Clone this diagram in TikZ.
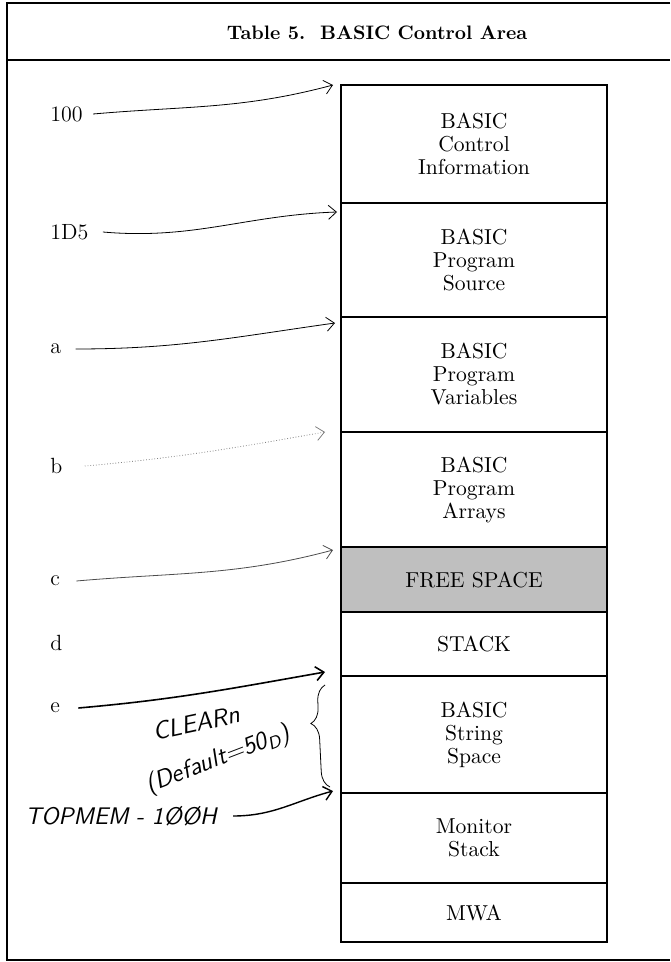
\documentclass[tikz,border=0pt]{standalone}
\usetikzlibrary{positioning,arrows.meta,decorations.pathreplacing}
\begin{document}
\begin{tikzpicture}[x=0.5pt, y=-0.5pt, node distance=0pt,
    row/.style={draw=black, semithick, outer sep=0pt, minimum width=133pt, align=center,
        font=\fontsize{10.8}{11.5}\selectfont},
    addr/.style={anchor=west, inner sep=1pt, font=\fontsize{11}{12}\selectfont},
    hand/.style={inner sep=0pt, font=\sffamily\itshape\fontsize{12.5}{12.5}\selectfont},
    ptr/.style={-{Straight Barb[length=4pt,width=7pt]}, thin}]
    \useasboundingbox (0,0) rectangle (670,962);
    \draw[line width=1.3pt] (670,3) -- (7,3) -- (7,960) -- (670,960);
    \draw[line width=1.1pt] (7,60) -- (670,60);
    \node (title) at (377,33) {\fontsize{9.75}{11}\selectfont\bfseries Table 5.\ \ BASIC Control Area};

    \node[row, anchor=north, minimum height=59pt] (ctrl) at (474,85) {BASIC\\Control\\Information};
    \node[row, below=of ctrl, minimum height=57pt] (src) {BASIC\\Program\\Source};
    \node[row, below=of src, minimum height=57.5pt] (vars) {BASIC\\Program\\Variables};
    \node[row, below=of vars, minimum height=57.5pt] (arrs) {BASIC\\Program\\Arrays};
    \node[row, below=of arrs, minimum height=32.5pt, fill=black!25] (free) {FREE SPACE};
    \node[row, below=of free, minimum height=32pt] (stk) {STACK};
    \node[row, below=of stk, minimum height=58.5pt] (str) {BASIC\\String\\Space};
    \node[row, below=of str, minimum height=45pt] (mon) {Monitor\\Stack};
    \node[row, below=of mon, minimum height=29.5pt] (mwa) {MWA};

    \node[addr] (l100) at (48,114) {100};
    \node[addr] (l1d5) at (48,232) {1D5};
    \node[addr] (la) at (48,349) {a};
    \node[addr] (lb) at (48,466) {b};
    \node[addr] (lc) at (48,581) {c};
    \node[addr] (ld) at (48,643) {d};
    \node[addr] (le) at (48,708) {e};
    \node[hand, font=\sffamily\itshape\fontsize{12}{12}\selectfont] (top) at (121,816) {TOPMEM - 1\O\O H};
    \node[hand, rotate=12] (clr) at (196,723) {CLEARn};
    \node[hand, rotate=21] (dflt) at (218,760) {(Default=50\textsubscript{D})};

    \draw[ptr] ([xshift=4pt]l100.east) to[out=5,in=195] ([xshift=-4pt]ctrl.north west);
    \draw[ptr] ([xshift=6pt]l1d5.east) to[out=-5,in=182] ([xshift=-2pt,yshift=-4.5pt]src.north west);
    \draw[ptr] ([xshift=6pt]la.east) to[out=0,in=188] ([xshift=-3pt,yshift=-3pt]vars.north west);
    \draw[ptr, gray, densely dotted] ([xshift=10pt]lb.east) to[out=5,in=190] ([xshift=-8pt]arrs.north west);
    \draw[ptr, black!70] ([xshift=7pt]lc.east) to[out=5,in=195] ([xshift=-4pt,yshift=-1.5pt]free.north west);
    \draw[ptr, line width=0.8pt] ([xshift=8pt]le.east) to[out=5,in=190] ([xshift=-8pt,yshift=2pt]str.north west);
    \draw[ptr, line width=0.7pt] ([xshift=8pt]top.east) to[out=0,in=195] ([xshift=-4pt,yshift=1pt]mon.north west);
    \draw[thin, decorate, decoration={brace, amplitude=8pt, aspect=0.63}]
        ([xshift=-5.5pt,yshift=3pt]str.south west) -- ([xshift=-8pt,yshift=-4.5pt]str.north west);
\end{tikzpicture}
\end{document}
